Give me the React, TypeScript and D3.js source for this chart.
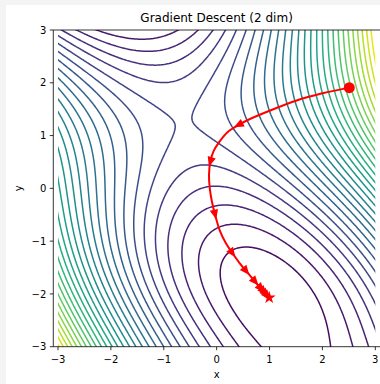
import { useMemo } from "react";
import * as d3 from "d3";

const W = 380;
const H = 384;

const title = "Gradient Descent (2 dim)";
const xTicks = [-3, -2, -1, 0, 1, 2, 3];
const yTicks = [-3, -2, -1, 0, 1, 2, 3];
const levelCount = 30;

// gradient descent trail
const pathX = [2.508, 2.0, 1.5, 1.0, 0.6, 0.41, 0.2, 0.05, -0.06, -0.12, -0.145, -0.13, -0.09, -0.03, 0.06, 0.17, 0.3, 0.43, 0.56, 0.73, 0.84, 0.92, 0.994];
const pathY = [1.908, 1.8, 1.66, 1.47, 1.3, 1.2, 1.06, 0.88, 0.7, 0.5, 0.25, 0.0, -0.25, -0.5, -0.8, -1.03, -1.23, -1.41, -1.57, -1.77, -1.9, -1.99, -2.07];
const arrowX = [0.41, -0.12, -0.03, 0.3, 0.56, 0.73, 0.84, 0.89, 0.93, 0.96];
const arrowY = [1.2, 0.5, -0.5, -1.23, -1.57, -1.77, -1.9, -1.955, -2.0, -2.035];
const startPoint = [2.508, 1.908];
const endPoint = [0.994, -2.07];

// surface being descended
const surface = (a: number, b: number) => a * a + a * b + 2 * Math.sin(b);

const minus = (v: number) => (v < 0 ? "\u2212" + Math.abs(v) : String(v));

export default function App() {
  const x = d3.scaleLinear().domain([-3, 3]).range([58, 375.3]);
  const y = d3.scaleLinear().domain([-3, 3]).range([346.7, 30]);
  const left = 53.3;
  const right = 380.4;
  const top = y(3);
  const bottom = y(-3);

  const { lines } = useMemo(() => {
    // levels like np.linspace(Z.min(), Z.max(), 30) on a 100x100 grid
    const g = d3.range(100).map((i) => -3 + (6 * i) / 99);
    let zmin = Infinity;
    let zmax = -Infinity;
    g.forEach((b) =>
      g.forEach((a) => {
        const v = surface(a, b);
        if (v < zmin) zmin = v;
        if (v > zmax) zmax = v;
      })
    );
    const levels = d3.range(levelCount).map((k) => zmin + (k * (zmax - zmin)) / (levelCount - 1));

    const pad = 0.5;
    const step = 0.025;
    const n = Math.round((6 + 2 * pad) / step) + 1;
    const vals = new Float64Array(n * n);
    for (let j = 0; j < n; j++) {
      for (let i = 0; i < n; i++) {
        vals[j * n + i] = surface(-3 - pad + i * step, -3 - pad + j * step);
      }
    }
    const cs = d3.contours().size([n, n]).thresholds(levels.slice(1, -1))(Array.from(vals));
    const color = d3.scaleSequential(d3.interpolateViridis).domain([zmin, zmax]);
    const out = cs.map((c) => {
      let d = "";
      c.coordinates.forEach((poly) =>
        poly.forEach((ring) => {
          ring.forEach((p, k) => {
            const px = x(-3 - pad + (p[0] - 0.5) * step);
            const py = y(-3 - pad + (p[1] - 0.5) * step);
            d += (k === 0 ? "M" : "L") + px.toFixed(2) + "," + py.toFixed(2);
          });
        })
      );
      return { d, stroke: color(c.value) };
    });
    return { lines: out };
  }, []);

  const pts = pathX.map((v, i) => [x(v), y(pathY[i])] as [number, number]);
  const trail = d3.line().curve(d3.curveCatmullRom.alpha(0.5))(pts) || "";

  const arrows = arrowX.map((ax, i) => {
    const px = x(ax);
    const py = y(arrowY[i]);
    let best = 0;
    let bestD = Infinity;
    for (let k = 0; k < pts.length - 1; k++) {
      const mx = (pts[k][0] + pts[k + 1][0]) / 2;
      const my = (pts[k][1] + pts[k + 1][1]) / 2;
      const dd = (mx - px) ** 2 + (my - py) ** 2;
      if (dd < bestD) {
        bestD = dd;
        best = k;
      }
    }
    const ang = Math.atan2(pts[best + 1][1] - pts[best][1], pts[best + 1][0] - pts[best][0]);
    return { px, py, deg: (ang * 180) / Math.PI };
  });

  const star = d3.symbol(d3.symbolStar, 52)() || "";

  return (
    <div style={{ position: "fixed", left: 0, top: 0 }}>
      <svg width={W} height={H} style={{ display: "block" }} fontFamily="DejaVu Sans">
        <rect width={W} height={H} fill="#f4f4f4" />
        <rect x={6} y={5} width={W} height={H} fill="#ffffff" />
        <defs>
          <clipPath id="plot">
            <rect x={x(-3)} y={top} width={x(3) - x(-3)} height={bottom - top} />
          </clipPath>
        </defs>
        <g clipPath="url(#plot)" fill="none" strokeWidth={1.5}>
          {lines.map((l, i) => (
            <path key={i} d={l.d} stroke={l.stroke} />
          ))}
        </g>

        <path d={trail} fill="none" stroke="#ff0000" strokeWidth={2} />
        {arrows.map((a, i) => (
          <path
            key={i}
            d="M5,0L-5,-4.2L-5,4.2Z"
            fill="#ff0000"
            transform={`translate(${a.px},${a.py}) rotate(${a.deg})`}
          />
        ))}
        <circle cx={x(startPoint[0])} cy={y(startPoint[1])} r={5.5} fill="#ff0000" />
        <path d={star} fill="#ff0000" transform={`translate(${x(endPoint[0])},${y(endPoint[1])})`} />

        <g stroke="#000" strokeWidth={0.8} fill="none">
          <line x1={left} x2={left} y1={top} y2={bottom} />
          <line x1={left} x2={right} y1={bottom} y2={bottom} />
          <line x1={left} x2={right} y1={top} y2={top} />
          {xTicks.map((t) => (
            <line key={t} x1={x(t)} x2={x(t)} y1={bottom} y2={bottom + 3.5} />
          ))}
          {yTicks.map((t) => (
            <line key={t} x1={left} x2={left - 3.5} y1={y(t)} y2={y(t)} />
          ))}
        </g>
        <g fontSize={10} fill="#000">
          {xTicks.map((t) => (
            <text key={t} x={x(t)} y={bottom + 16} textAnchor="middle">
              {minus(t)}
            </text>
          ))}
          {yTicks.map((t) => (
            <text key={t} x={left - 7} y={y(t) + 3.6} textAnchor="end">
              {minus(t)}
            </text>
          ))}
          <text x={(left + 379.9) / 2} y={377.5} textAnchor="middle">
            x
          </text>
          <text transform={`translate(22,${(top + bottom) / 2}) rotate(-90)`} textAnchor="middle">
            y
          </text>
        </g>
        <text x={(left + 379.9) / 2} y={22} textAnchor="middle" fontSize={12}>
          {title}
        </text>
      </svg>
    </div>
  );
}
